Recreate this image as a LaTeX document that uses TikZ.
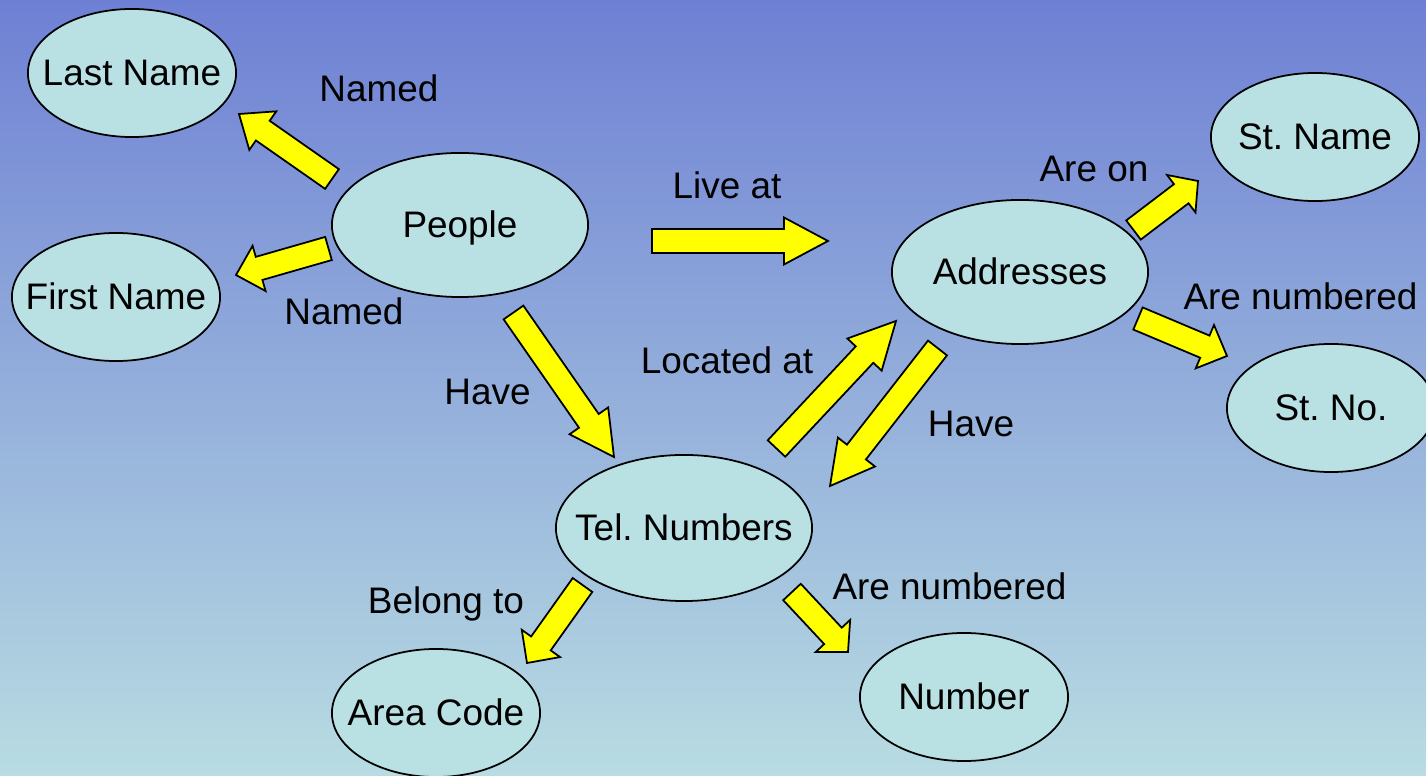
\documentclass[tikz,border=0pt]{standalone}
\usepackage{fontspec}
\setmainfont{Liberation Sans}
\usetikzlibrary{shapes.geometric,calc}
\frenchspacing

\definecolor{bgtop}{RGB}{110,128,212}
\definecolor{bgbottom}{RGB}{184,220,226}
\definecolor{entfill}{RGB}{185,224,227}
\definecolor{arrowfill}{RGB}{255,255,0}

% Block arrow from a tail coordinate to a tip coordinate
% #1 name prefix, #2 tail, #3 tip, #4 head length
\newcommand\blockarrow[4]{%
  \coordinate (#1-b) at ($(#3)!#4!(#2)$);
  \draw[barrow]
    ($(#2)!0.12cm!90:(#3)$) --
    ($(#1-b)!0.12cm!-90:(#2)$) --
    ($(#1-b)!0.235cm!-90:(#2)$) --
    (#3) --
    ($(#1-b)!0.235cm!90:(#2)$) --
    ($(#1-b)!0.12cm!90:(#2)$) --
    ($(#2)!0.12cm!-90:(#3)$) -- cycle;
}

\begin{document}
\begin{tikzpicture}[x=0.01cm,y=-0.01cm,
  every node/.style={font=\fontsize{10.5}{12}\selectfont},
  entlabel/.style={inner sep=0pt, text height=0.72em, text depth=0pt},
  ent/.style={ellipse, draw=black, line width=0.5pt, fill=entfill,
    inner sep=0pt, minimum width=2.08cm, minimum height=1.28cm,
    label={[entlabel]center:#1}},
  bigent/.style={ent=#1, minimum width=2.56cm, minimum height=1.44cm},
  lbl/.style={anchor=base, inner sep=0pt},
  barrow/.style={draw=black, line width=0.5pt, fill=arrowfill, line join=miter}]

  % background
  \useasboundingbox (0,0) rectangle (1426,776);
  \shade[top color=bgtop, bottom color=bgbottom] (0,0) rectangle (1426,776);

  % entities
  \node[ent={Last Name}] (last) at (132,73) {};
  \node[ent={First Name}] (first) at (116,297) {};
  \node[bigent={People}] (people) at (460,225) {};
  \node[bigent={Addresses}] (addr) at (1020,272) {};
  \node[ent={St. Name}] (stname) at (1315,137) {};
  \node[ent={St. No.}] (stno) at (1331,408) {};
  \node[bigent={Tel. Numbers}, minimum height=1.46cm] (tel) at (684,528) {};
  \node[ent={Area Code}] (area) at (436,713) {};
  \node[ent={Number}] (number) at (964,697) {};

  % arrow end points
  \coordinate (a1s) at (332,179);   \coordinate (a1e) at (239,114);
  \coordinate (a2s) at (328.5,248.5); \coordinate (a2e) at (236,275);
  \coordinate (a3s) at (652,241);   \coordinate (a3e) at (828,241);
  \coordinate (a4s) at (513.5,312.5); \coordinate (a4e) at (614,457);
  \coordinate (a5s) at (776.5,448.5); \coordinate (a5e) at (896,321);
  \coordinate (a6s) at (937.5,348); \coordinate (a6e) at (830,486);
  \coordinate (a7s) at (1133.5,230); \coordinate (a7e) at (1198,181);
  \coordinate (a8s) at (1138,318.5); \coordinate (a8e) at (1227,356);
  \coordinate (a9s) at (582.5,585); \coordinate (a9e) at (527,663);
  \coordinate (a10s) at (792,592);  \coordinate (a10e) at (848,652);

  % arrows
  \blockarrow{a1}{a1s}{a1e}{0.29cm}
  \blockarrow{a2}{a2s}{a2e}{0.24cm}
  \blockarrow{a3}{a3s}{a3e}{0.44cm}
  \blockarrow{a4}{a4s}{a4e}{0.44cm}
  \blockarrow{a5}{a5s}{a5e}{0.46cm}
  \blockarrow{a6}{a6s}{a6e}{0.43cm}
  \blockarrow{a7}{a7s}{a7e}{0.21cm}
  \blockarrow{a8}{a8s}{a8e}{0.24cm}
  \blockarrow{a9}{a9s}{a9e}{0.24cm}
  \blockarrow{a10}{a10s}{a10e}{0.22cm}

  % relationship labels
  \node[lbl] (l1) at (379,102) {Named};
  \node[lbl] (l2) at (344,325) {Named};
  \node[lbl] (l3) at (727,199) {Live at};
  \node[lbl] (l4) at (487.5,405) {Have};
  \node[lbl] (l5) at (727,374) {Located at};
  \node[lbl] (l6) at (971,437) {Have};
  \node[lbl] (l7) at (1094,182) {Are on};
  \node[lbl] (l8) at (1300.5,310) {Are numbered};
  \node[lbl] (l9) at (446,614) {Belong to};
  \node[lbl] (l10) at (949.5,600) {Are numbered};
\end{tikzpicture}
\end{document}
